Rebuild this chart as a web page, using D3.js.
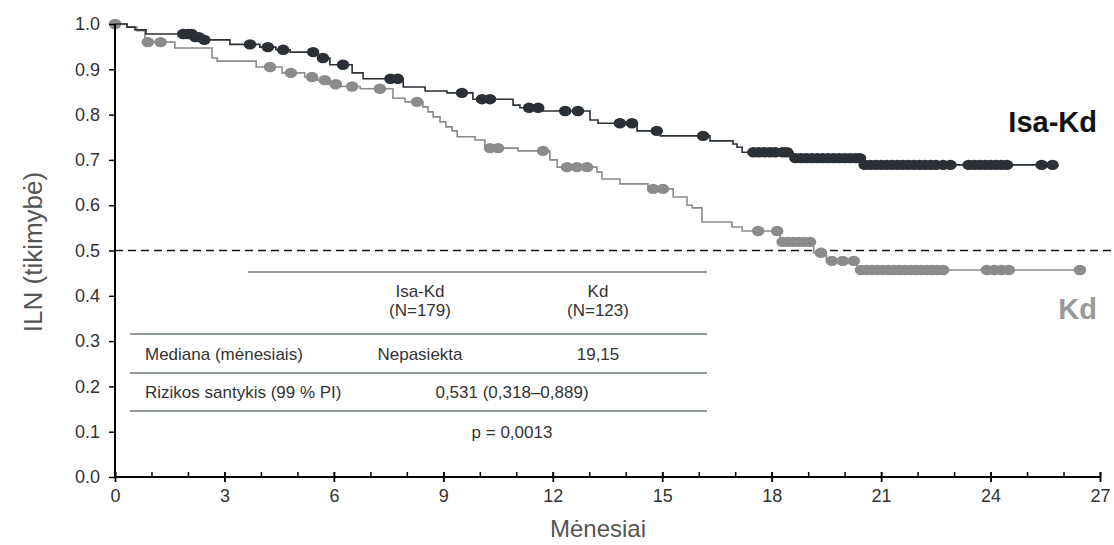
<!DOCTYPE html>
<html>
<head>
<meta charset="utf-8">
<script src="https://cdn.jsdelivr.net/npm/d3@7"></script>
<style>
  body { margin: 0; background: #fff; }
  text { font-family: "Liberation Sans", Arial, sans-serif; }
</style>
</head>
<body>
<script>
// step points [month, survival after the event]
var isaSteps = [[0, 1.0], [0.33, 0.993], [0.55, 0.987], [0.85, 0.978], [2.11, 0.971], [2.41, 0.965],
    [3.15, 0.955], [3.97, 0.949], [4.41, 0.943], [4.8, 0.938], [5.56, 0.925], [5.89, 0.91],
    [6.5, 0.892], [6.8, 0.879], [7.9, 0.861], [8.5, 0.852], [9.1, 0.848], [9.81, 0.834],
    [10.91, 0.821], [11.1, 0.815], [11.73, 0.808], [13.02, 0.788], [13.24, 0.781], [14.31, 0.764],
    [14.95, 0.753], [16.31, 0.742], [16.94, 0.735], [17.05, 0.728], [17.19, 0.717],
    [18.59, 0.704], [20.48, 0.689]];
var isaEnd = 25.75;
var isaCensor = [1.87, 2.0, 2.1, 2.2, 2.3, 2.45, 3.7, 4.19, 4.61, 5.43, 5.7, 6.25, 7.55, 7.75,
    9.51, 10.06, 10.28, 11.35, 11.6, 12.34, 12.69, 13.84, 14.17, 14.85, 16.12,
    17.5, 17.65, 17.8, 17.95, 18.1, 18.3, 18.42, 18.65, 18.8, 18.95, 19.1, 19.25, 19.4, 19.55,
    19.7, 19.85, 20.0, 20.15, 20.3, 20.42, 20.55, 20.7, 20.85, 21.0, 21.15, 21.3, 21.45, 21.6,
    21.75, 21.9, 22.05, 22.2, 22.35, 22.5, 22.7, 22.9, 23.4, 23.55, 23.7, 23.85, 24.0, 24.15,
    24.3, 24.45, 25.4, 25.7];

var kdSteps = [[0, 1.0], [0.33, 0.993], [0.6, 0.985], [0.82, 0.96], [1.64, 0.947], [2.66, 0.925],
    [2.8, 0.918], [3.87, 0.905], [4.58, 0.892], [5.2, 0.883], [5.55, 0.876], [5.85, 0.867],
    [6.2, 0.862], [6.72, 0.857], [7.62, 0.836], [7.95, 0.828], [8.44, 0.817], [8.58, 0.806],
    [8.72, 0.795], [8.91, 0.784], [9.07, 0.773], [9.24, 0.764], [9.38, 0.751], [9.87, 0.744],
    [10.14, 0.726], [11.05, 0.72], [11.92, 0.7], [12.12, 0.684], [13.21, 0.673], [13.35, 0.658],
    [13.84, 0.647], [14.61, 0.636], [15.3, 0.618], [15.68, 0.6], [15.82, 0.594], [16.09, 0.563],
    [16.91, 0.552], [17.19, 0.543], [18.23, 0.519], [19.15, 0.495], [19.5, 0.477], [20.34, 0.457]];
var kdEnd = 26.45;
var kdCensor = [0, 0.9, 1.25, 4.25, 4.82, 5.4, 5.75, 6.05, 6.5, 7.26, 8.28, 10.28, 10.5, 11.73,
    12.39, 12.66, 12.94, 14.75, 15.02, 17.63, 18.15, 18.3, 18.45, 18.6, 18.75, 18.9, 19.05,
    19.35, 19.65, 19.95, 20.25, 20.45, 20.6, 20.75, 20.9, 21.05, 21.2, 21.35, 21.5, 21.65, 21.8,
    21.95, 22.1, 22.25, 22.4, 22.55, 22.7, 23.9, 24.1, 24.3, 24.5, 26.45];

var xTicks = [0, 3, 6, 9, 12, 15, 18, 21, 24, 27];
var yTicks = [0, 0.1, 0.2, 0.3, 0.4, 0.5, 0.6, 0.7, 0.8, 0.9, 1.0];

var tableHead = [["Isa-Kd", "(N=179)"], ["Kd", "(N=123)"]];
var medianRow = ["Mediana (mėnesiais)", "Nepasiekta", "19,15"];
var hrRow = ["Rizikos santykis (99 % PI)", "0,531 (0,318–0,889)"];
var pText = "p = 0,0013";

var w = 1114, h = 545;
var darkCol = "#2a3036", greyCol = "#8b8b8b";

var svg = d3.select("body").append("svg")
    .attr("width", w)
    .attr("height", h);

var x = d3.scaleLinear().domain([0, 27]).range([115, 1100]);
var y = d3.scaleLinear().domain([0, 1]).range([477, 24]);

// dashed median line
svg.append("line")
    .attr("x1", x(0)).attr("x2", w)
    .attr("y1", y(0.5)).attr("y2", y(0.5))
    .attr("stroke", "#111").attr("stroke-width", 1.6)
    .attr("stroke-dasharray", "8,5");

// table
var tbl = svg.append("g").attr("fill", "#333");
var lineCol = "#8e989d";
function hline(x1, x2, yy){
    tbl.append("line").attr("x1", x1).attr("x2", x2).attr("y1", yy).attr("y2", yy)
        .attr("stroke", lineCol).attr("stroke-width", 2);
}
function cell(tx, ty, str, anchor){
    tbl.append("text").attr("x", tx).attr("y", ty)
        .attr("text-anchor", anchor || "middle")
        .attr("font-size", 17)
        .text(str);
}
hline(248, 707, 272);
hline(130, 707, 334);
hline(130, 707, 373);
hline(130, 707, 411);
var colX = [420, 598];
tableHead.forEach(function(c, i){
    cell(colX[i], 297, c[0]);
    cell(colX[i], 316, c[1]);
});
cell(145, 360, medianRow[0], "start");
cell(colX[0], 360, medianRow[1]);
cell(colX[1], 360, medianRow[2]);
cell(145, 398, hrRow[0], "start");
cell(512, 398, hrRow[1]);
cell(512, 438, pText);

// survival curves
function survAt(steps, t){
    var s = steps[0][1];
    steps.forEach(function(p){ if (p[0] <= t) s = p[1]; });
    return s;
}
var line = d3.line()
    .x(function(d){ return x(d[0]); })
    .y(function(d){ return y(d[1]); })
    .curve(d3.curveStepAfter);

function drawCurve(steps, end, censor, col){
    var pts = steps.concat([[end, steps[steps.length - 1][1]]]);
    svg.append("path")
        .datum(pts)
        .attr("fill", "none")
        .attr("stroke", col)
        .attr("stroke-width", 1.6)
        .attr("d", line);
    svg.append("g").selectAll("ellipse")
        .data(censor)
        .enter()
        .append("ellipse")
        .attr("cx", function(d){ return x(d); })
        .attr("cy", function(d){ return y(survAt(steps, d)); })
        .attr("rx", 6.3)
        .attr("ry", 5.2)
        .attr("fill", col);
}
drawCurve(kdSteps, kdEnd, kdCensor, greyCol);
drawCurve(isaSteps, isaEnd, isaCensor, darkCol);

// axes
var xAxis = svg.append("g")
    .attr("transform", "translate(0," + y(0) + ")")
    .call(d3.axisBottom(x).tickValues(xTicks).tickSize(5).tickPadding(7).tickFormat(d3.format("d")));
xAxis.selectAll(".tick line").attr("y1", -5).attr("stroke-width", 1.8);
svg.append("g")
    .attr("transform", "translate(0," + y(0) + ")")
    .call(d3.axisBottom(x).ticks(27).tickSize(-5).tickFormat(""))
    .call(function(g){ g.select(".domain").remove(); })
    .selectAll(".tick line").attr("stroke-width", 1.5);
xAxis.select(".domain").attr("stroke-width", 2).attr("d", "M" + x(0) + ",0H" + x(27));
xAxis.selectAll("text").attr("font-size", 18).attr("fill", "#333")
    .attr("font-family", "Liberation Sans, Arial, sans-serif");

var yAxis = svg.append("g")
    .attr("transform", "translate(" + x(0) + ",0)")
    .call(d3.axisLeft(y).tickValues(yTicks).tickSize(6).tickPadding(9).tickFormat(d3.format(".1f")));
yAxis.select(".domain").attr("stroke-width", 2).attr("d", "M0," + y(0) + "V" + y(1));
yAxis.selectAll(".tick line").attr("stroke-width", 1.5);
yAxis.selectAll("text").attr("font-size", 18).attr("fill", "#333")
    .attr("font-family", "Liberation Sans, Arial, sans-serif");

// axis titles
svg.append("text")
    .attr("transform", "translate(42," + 252 + ") rotate(-90)")
    .attr("text-anchor", "middle")
    .attr("font-size", 26)
    .attr("fill", "#555")
    .text("ILN (tikimybė)");
svg.append("text")
    .attr("x", 598).attr("y", 537)
    .attr("text-anchor", "middle")
    .attr("font-size", 24)
    .attr("fill", "#555")
    .text("Mėnesiai");

// series labels
svg.append("text")
    .attr("x", 1097).attr("y", 132)
    .attr("text-anchor", "end")
    .attr("font-size", 29).attr("font-weight", "bold")
    .attr("fill", "#111")
    .text("Isa-Kd");
svg.append("text")
    .attr("x", 1097).attr("y", 319)
    .attr("text-anchor", "end")
    .attr("font-size", 29).attr("font-weight", "bold")
    .attr("fill", "#999")
    .text("Kd");
</script>
</body>
</html>
